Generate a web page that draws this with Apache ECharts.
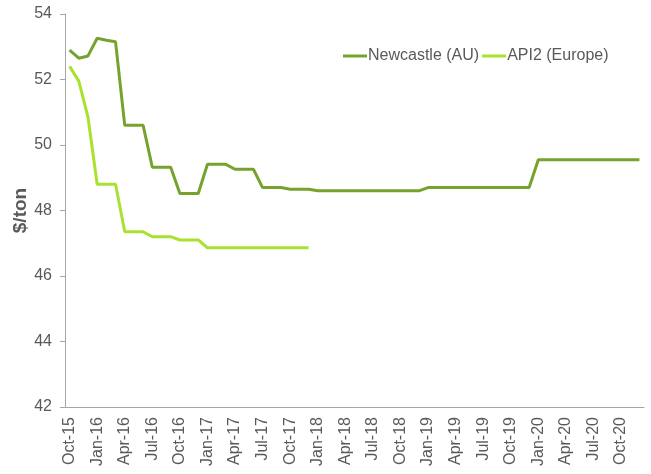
<!DOCTYPE html>
<html>
<head>
<meta charset="utf-8">
<script src="https://cdn.jsdelivr.net/npm/echarts@6/dist/echarts.min.js"></script>
<style>
  html, body { margin: 0; padding: 0; background: #fff; }
  #chart { width: 651px; height: 474px; }
</style>
</head>
<body>
<div id="chart"></div>
<script>
const months = [
  'Oct-15', 'Nov-15', 'Dec-15',
  'Jan-16', 'Feb-16', 'Mar-16', 'Apr-16', 'May-16', 'Jun-16', 'Jul-16', 'Aug-16', 'Sep-16', 'Oct-16', 'Nov-16', 'Dec-16',
  'Jan-17', 'Feb-17', 'Mar-17', 'Apr-17', 'May-17', 'Jun-17', 'Jul-17', 'Aug-17', 'Sep-17', 'Oct-17', 'Nov-17', 'Dec-17',
  'Jan-18', 'Feb-18', 'Mar-18', 'Apr-18', 'May-18', 'Jun-18', 'Jul-18', 'Aug-18', 'Sep-18', 'Oct-18', 'Nov-18', 'Dec-18',
  'Jan-19', 'Feb-19', 'Mar-19', 'Apr-19', 'May-19', 'Jun-19', 'Jul-19', 'Aug-19', 'Sep-19', 'Oct-19', 'Nov-19', 'Dec-19',
  'Jan-20', 'Feb-20', 'Mar-20', 'Apr-20', 'May-20', 'Jun-20', 'Jul-20', 'Aug-20', 'Sep-20', 'Oct-20', 'Nov-20', 'Dec-20'
]

// Newcastle (AU), $/ton
const newcastle = [
  52.9, 52.65, 52.72,
  53.26, 53.2, 53.15, 50.6, 50.6, 50.6, 49.32, 49.32, 49.32, 48.52, 48.52, 48.52,
  49.41, 49.41, 49.41, 49.26, 49.26, 49.26, 48.7, 48.7, 48.7, 48.65, 48.65, 48.65,
  48.6, 48.6, 48.6, 48.6, 48.6, 48.6, 48.6, 48.6, 48.6, 48.6, 48.6, 48.6,
  48.7, 48.7, 48.7, 48.7, 48.7, 48.7, 48.7, 48.7, 48.7, 48.7, 48.7, 48.7,
  49.55, 49.55, 49.55, 49.55, 49.55, 49.55, 49.55, 49.55, 49.55, 49.55, 49.55, 49.55
]

// API2 (Europe), $/ton - stops at Dec-17
const api2 = [
  52.4, 51.95, 50.85,
  48.8, 48.8, 48.8, 47.35, 47.35, 47.35, 47.2, 47.2, 47.2, 47.1, 47.1, 47.1,
  46.86, 46.86, 46.86, 46.86, 46.86, 46.86, 46.86, 46.86, 46.86, 46.86, 46.86, 46.86
]

const chart = echarts.init(document.getElementById('chart'))
const axisGrey = '#a6a6a6'
const textGrey = '#595959'

const option = {
  animation: false,
  textStyle: { fontFamily: 'Liberation Sans, Arial, sans-serif' },
  grid: { left: 65, right: 7, top: 14, bottom: 67, outerBoundsMode: 'none', containLabel: false },
  legend: {
    left: 338,
    top: 43,
    icon: 'rect',
    itemWidth: 24,
    itemHeight: 3,
    itemGap: 3,
    textStyle: { color: textGrey, fontSize: 16, padding: [0, 0, 0, -4] },
    data: ['Newcastle (AU)', 'API2 (Europe)']
  },
  xAxis: {
    type: 'category',
    data: months,
    boundaryGap: true,
    axisLine: { lineStyle: { color: axisGrey, width: 1 } },
    axisTick: { interval: 2, length: 5, lineStyle: { color: axisGrey } },
    axisLabel: { interval: 2, rotate: 90, color: textGrey, fontSize: 16, margin: 10 }
  },
  yAxis: {
    type: 'value',
    min: 42,
    max: 54,
    interval: 2,
    name: '$/ton',
    nameLocation: 'middle',
    nameGap: 35,
    nameMoveOverlap: false,
    nameTextStyle: { color: textGrey, fontSize: 19, fontWeight: 'bold' },
    splitLine: { show: false },
    axisLine: { show: true, lineStyle: { color: axisGrey, width: 1 } },
    axisTick: { show: true, length: 5, lineStyle: { color: axisGrey } },
    axisLabel: { color: textGrey, fontSize: 16, margin: 13 }
  },
  series: [
    {
      name: 'Newcastle (AU)',
      type: 'line',
      data: newcastle,
      showSymbol: false,
      symbol: 'none',
      lineStyle: { color: '#76a22e', width: 3 },
      itemStyle: { color: '#76a22e' }
    },
    {
      name: 'API2 (Europe)',
      type: 'line',
      data: api2,
      showSymbol: false,
      symbol: 'none',
      lineStyle: { color: '#a8e22c', width: 3 },
      itemStyle: { color: '#a8e22c' }
    }
  ]
}

chart.setOption(option)
window.addEventListener('resize', function () {
  chart.resize()
})
</script>
</body>
</html>
